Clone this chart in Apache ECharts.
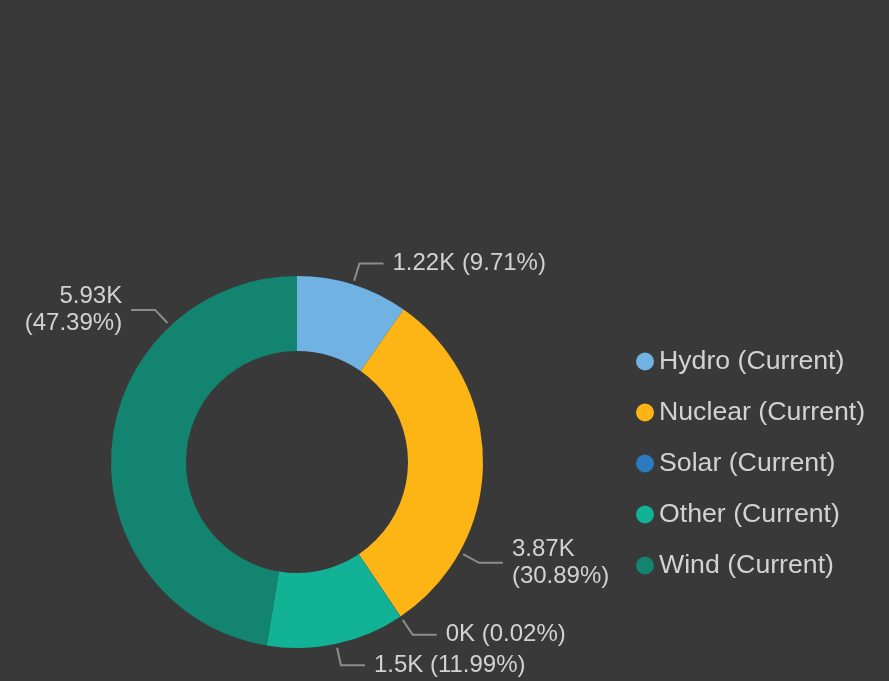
<!DOCTYPE html>
<html>
<head>
<meta charset="utf-8">
<script src="https://cdn.jsdelivr.net/npm/echarts@6/dist/echarts.min.js"></script>
<style>
html,body{margin:0;padding:0;background:#393939;}
#chart{width:889px;height:681px;}
</style>
</head>
<body>
<div id="chart"></div>
<script>
const categories = ['Hydro (Current)', 'Nuclear (Current)', 'Solar (Current)', 'Other (Current)', 'Wind (Current)'];
const values = [1216, 3867, 2.5, 1501, 5933];
const colors = ['#70b2e2', '#fdb515', '#2b7bc1', '#12b297', '#128470'];

// layout constants (not data)
const CX = 297, CY = 462, R_IN = 111, R_OUT = 186;
const LINE_R0 = 190, LINE_R1 = 208, LINE_LEN2 = 24, TEXT_GAP = 9;
// labels that are shifted along the ring / wrapped onto two lines
const anchorOverride = { 1: 119, 4: 317 };
const wrapLabels = { 1: true, 4: true };

function fmtK(v) {
  let s = (v / 1000).toFixed(2);
  s = s.replace(/\.?0+$/, '');
  return s + 'K';
}

const total = values.reduce((a, b) => a + b, 0);
const midAngles = [];
{
  let acc = 0;
  values.forEach(v => { midAngles.push((acc + v / 2) / total * 360); acc += v; });
}

const chart = echarts.init(document.getElementById('chart'));
chart.setOption({
  backgroundColor: '#393939',
  animation: false,
  color: colors,
  legend: {
    orient: 'vertical',
    left: 631,
    top: 343,
    icon: 'circle',
    itemWidth: 18,
    itemHeight: 19,
    itemGap: 24,
    textStyle: { color: '#d2d2d2', fontSize: 26.7, fontFamily: 'Liberation Sans' },
    data: categories
  },
  series: [{
    type: 'pie',
    center: [CX, CY],
    radius: [R_IN, R_OUT],
    clockwise: true,
    startAngle: 90,
    avoidLabelOverlap: false,
    label: {
      show: true,
      color: '#d2d2d2',
      fontSize: 24,
      lineHeight: 27,
      fontFamily: 'Liberation Sans',
      formatter: function (p) {
        const sep = wrapLabels[p.dataIndex] ? '\n' : ' ';
        return fmtK(p.value) + sep + '(' + p.percent.toFixed(2) + '%)';
      }
    },
    labelLine: {
      show: true,
      length: 20,
      length2: 24,
      lineStyle: { color: '#8c8c8c', width: 2 }
    },
    labelLayout: function (params) {
      const i = params.dataIndex;
      const a = (anchorOverride[i] !== undefined ? anchorOverride[i] : midAngles[i]) * Math.PI / 180;
      const sx = Math.sin(a), sy = -Math.cos(a);
      const p0 = [CX + LINE_R0 * sx, CY + LINE_R0 * sy];
      const p1 = [CX + LINE_R1 * sx, CY + LINE_R1 * sy];
      const dir = sx >= 0 ? 1 : -1;
      const p2 = [p1[0] + dir * LINE_LEN2, p1[1]];
      return {
        x: p2[0] + dir * TEXT_GAP,
        y: p1[1],
        align: dir > 0 ? 'left' : 'right',
        verticalAlign: 'middle',
        labelLinePoints: [p0, p1, p2]
      };
    },
    data: categories.map((c, i) => ({ name: c, value: values[i] }))
  }]
});
</script>
</body>
</html>
